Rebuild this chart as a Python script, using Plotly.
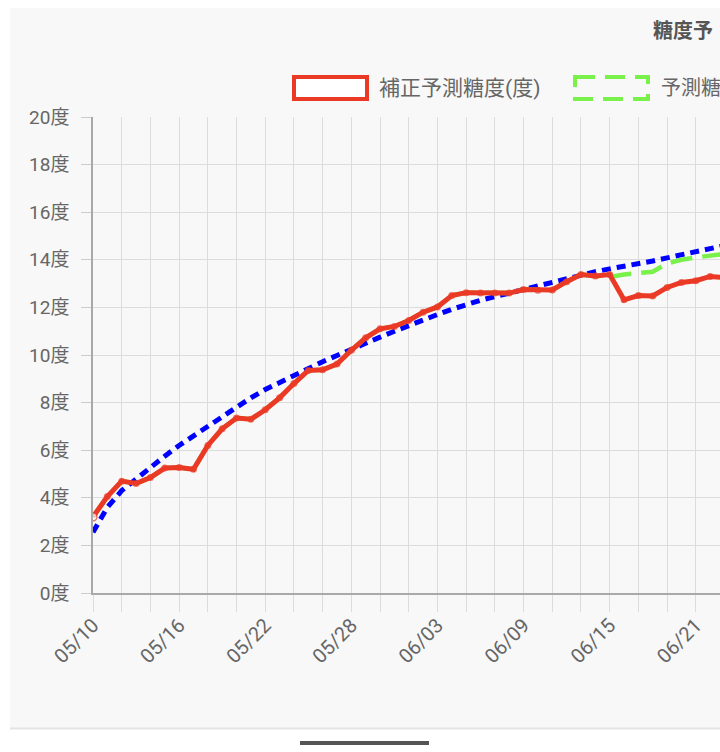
import pandas as pd
import plotly.graph_objects as go

# ---- data ----
start_date = "2024-05-10"
n_days = 45
dates = pd.date_range(start_date, periods=n_days, freq="D")

corrected = [3.2, 4.05, 4.7, 4.6, 4.85, 5.25, 5.27, 5.2, 6.2, 6.9,
             7.35, 7.3, 7.7, 8.2, 8.8, 9.35, 9.38, 9.62, 10.2, 10.72,
             11.1, 11.2, 11.45, 11.8, 12.02, 12.5, 12.62, 12.6, 12.6, 12.6,
             12.75, 12.72, 12.73, 13.08, 13.38, 13.32, 13.38, 12.32, 12.5, 12.48,
             12.84, 13.05, 13.12, 13.3, 13.25]

predicted = [3.2, 4.05, 4.7, 4.6, 4.85, 5.25, 5.27, 5.2, 6.2, 6.9,
             7.35, 7.3, 7.7, 8.2, 8.8, 9.35, 9.38, 9.62, 10.2, 10.72,
             11.1, 11.2, 11.45, 11.8, 12.02, 12.5, 12.62, 12.6, 12.6, 12.6,
             12.75, 12.72, 12.73, 13.08, 13.38, 13.32, 13.28, 13.38, 13.46, 13.5,
             13.85, 14.0, 14.1, 14.18, 14.25]

trend = [2.55, 3.6, 4.3, 4.8, 5.25, 5.75, 6.2, 6.6, 7.0, 7.45,
         7.85, 8.2, 8.55, 8.85, 9.15, 9.45, 9.72, 9.98, 10.22, 10.5,
         10.75, 11.0, 11.25, 11.47, 11.7, 11.92, 12.12, 12.3, 12.45, 12.6,
         12.76, 12.95, 13.1, 13.25, 13.4, 13.5, 13.62, 13.72, 13.84, 13.95,
         14.08, 14.22, 14.35, 14.48, 14.6]

title_text = "糖度予"          # visible part of the (cropped) title
legend_names = ["補正予測糖度(度)", "予測糖"]  # second legend label is cropped in the reference
y_suffix = "度"

RED = "#ea3a26"
GREEN = "#7af04a"
BLUE = "#0000ff"
FONT = "Roboto, 'Noto Sans CJK JP', sans-serif"
GRID = "#dcdcdc"
TXT = "#666666"

W, H = 720, 752
L, R, T, B = 93, 0, 117, 159
PW, PH = W - L - R, H - T - B


def px(x):
    return (x - L) / PW


def py(y):
    return (H - B - y) / PH


fig = go.Figure()

fig.add_trace(go.Scatter(x=dates, y=trend, mode="lines", name="trend",
                         line=dict(color=BLUE, width=5, dash="9px,6px"),
                         showlegend=False, hoverinfo="skip"))
fig.add_trace(go.Scatter(x=dates, y=predicted, mode="lines", name="予測糖度(度)",
                         line=dict(color=GREEN, width=4.5, dash="22px,10px"),
                         showlegend=False))
fig.add_trace(go.Scatter(x=dates, y=corrected, mode="lines+markers", name=legend_names[0],
                         line=dict(color=RED, width=5),
                         marker=dict(color=["#ffffff"] + [RED] * (n_days - 1),
                                     size=[8] + [7] * (n_days - 1),
                                     line=dict(color=RED, width=[1.5] + [0] * (n_days - 1))),
                         showlegend=False))

shapes = [
    # card background
    dict(type="rect", xref="paper", yref="paper", x0=px(10), x1=px(740), y0=py(8), y1=py(728),
         fillcolor="#f8f8f8", line=dict(width=0), layer="below"),
    dict(type="line", xref="paper", yref="paper", x0=px(10), x1=px(740), y0=py(728.5), y1=py(728.5),
         line=dict(color="#e4e4e4", width=2)),
    # home indicator bar
    dict(type="line", xref="paper", yref="paper", x0=px(300), x1=px(429), y0=py(743), y1=py(743),
         line=dict(color="#555555", width=4)),
    # legend boxes
    dict(type="rect", xref="paper", yref="paper", x0=px(294), x1=px(367), y0=py(77), y1=py(99),
         fillcolor="#ffffff", line=dict(color=RED, width=4)),
    dict(type="rect", xref="paper", yref="paper", x0=px(575), x1=px(648), y0=py(77), y1=py(99),
         fillcolor="rgba(255,255,255,0)", line=dict(color=GREEN, width=4, dash="20px,10px")),
]

annotations = [
    dict(text=f"<b>{title_text}</b>", xref="paper", yref="paper", x=px(651), y=py(31),
         xanchor="left", yanchor="middle", showarrow=False,
         font=dict(family=FONT, size=20, color="#555555")),
    dict(text=legend_names[0], xref="paper", yref="paper", x=px(377), y=py(88),
         xanchor="left", yanchor="middle", showarrow=False,
         font=dict(family=FONT, size=21, color=TXT)),
    dict(text=legend_names[1], xref="paper", yref="paper", x=px(659), y=py(88),
         xanchor="left", yanchor="middle", showarrow=False,
         font=dict(family=FONT, size=20, color=TXT)),
]

DAY = 86400000
fig.update_layout(
    width=W, height=H,
    margin=dict(l=L, r=R, t=T, b=B, pad=0),
    paper_bgcolor="#ffffff", plot_bgcolor="rgba(0,0,0,0)",
    font=dict(family=FONT, color=TXT),
    shapes=shapes, annotations=annotations,
    showlegend=False,
    xaxis=dict(type="date", range=["2024-05-10", "2024-06-22 16:30"],
               tickformat="%m/%d", tick0="2024-05-10", dtick=6 * DAY,
               ticks="outside", ticklen=17, tickcolor=GRID, tickwidth=1,
               showgrid=True, gridcolor=GRID, gridwidth=1,
               minor=dict(tick0="2024-05-10", dtick=2 * DAY, ticks="outside", ticklen=17,
                          tickcolor=GRID, showgrid=True, gridcolor=GRID),
               tickangle=-45, tickfont=dict(size=20, color=TXT), ticklabelstandoff=-6,
               showline=True, linecolor="#a9a9a9", linewidth=1.5, zeroline=False),
    yaxis=dict(range=[0, 20], dtick=2, tick0=0, ticksuffix=y_suffix,
               ticks="outside", ticklen=10, tickcolor="#cccccc",
               showgrid=True, gridcolor=GRID, gridwidth=1,
               tickfont=dict(size=19, color=TXT), ticklabelstandoff=8,
               showline=True, linecolor="#a9a9a9", linewidth=1.5, zeroline=False),
)

fig.write_html("out.html", config={"displayModeBar": False},
               post_script="document.body.style.margin='0';document.body.style.overflow='hidden';")
